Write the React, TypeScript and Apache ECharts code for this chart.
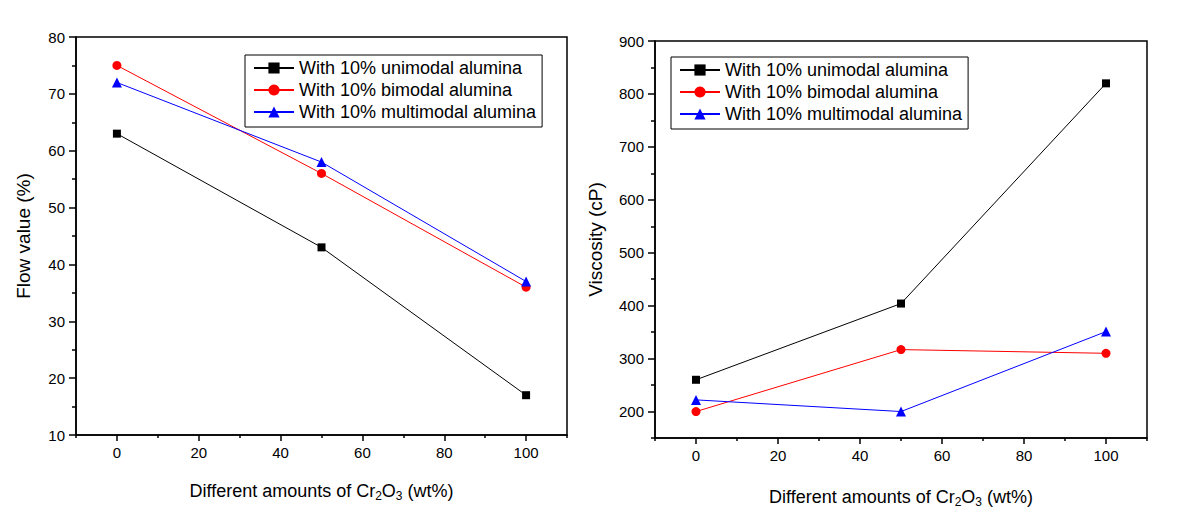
import React, { useEffect, useRef } from "react";
import * as echarts from "echarts";

const xValues = [0, 50, 100];
const seriesNames = [
  "With 10% unimodal alumina",
  "With 10% bimodal alumina",
  "With 10% multimodal alumina",
];
const flowUnimodal = [63, 43, 17];
const flowBimodal = [75, 56, 36];
const flowMultimodal = [72, 58, 37];
const viscUnimodal = [260, 404, 820];
const viscBimodal = [200, 317, 310];
const viscMultimodal = [222, 200, 351];

const xMajorTicks = [0, 20, 40, 60, 80, 100];
const xMinorTicks = [-10, 10, 30, 50, 70, 90, 110];
const viscMajorTicks = [200, 300, 400, 500, 600, 700, 800, 900];
const viscMinorTicks = [150, 250, 350, 450, 550, 650, 750, 850];

const FONT = "'Liberation Sans', Arial, sans-serif";
const colors = ["#000000", "#ff0000", "#0000ff"];
const symbols = ["rect", "circle", "triangle"];
const symbolSizes = [8, 9, 10];

const xName = "Different amounts of Cr{sub|2}O{sub|3} (wt%)";

function pairs(ys: number[]) {
  return xValues.map((x, i) => [x, ys[i]]);
}

export default function App() {
  const ref = useRef<HTMLDivElement>(null);
  useEffect(() => {
    document.body.style.margin = "0";
    if (!ref.current) return;
    const chart = echarts.init(ref.current, null, { renderer: "svg" });

    const axisLine = { show: true, onZero: false, lineStyle: { color: "#000", width: 1.5 } };
    const hiddenLine = { show: false, onZero: false };
    const nameStyle = {
      fontSize: 18,
      fontFamily: FONT,
      color: "#000",
      rich: { sub: { fontSize: 12, fontFamily: FONT, color: "#000", padding: [10, 0, 0, 0] } },
    };
    const labelStyle = { fontSize: 15, fontFamily: FONT, color: "#000" };
    const tickLine = { color: "#000", width: 1.5 };

    const mainX = (grid: number, gap: number) => ({
      type: "value",
      gridIndex: grid,
      position: "bottom",
      min: -10,
      max: 110,
      axisLine,
      splitLine: { show: false },
      axisTick: { show: true, inside: false, length: 6, customValues: xMajorTicks, lineStyle: tickLine },
      axisLabel: { ...labelStyle, margin: 10, customValues: xMajorTicks },
      name: xName,
      nameLocation: "middle",
      nameGap: gap,
      nameTextStyle: nameStyle,
    });
    const minorX = (grid: number) => ({
      type: "value",
      gridIndex: grid,
      position: "bottom",
      offset: 0,
      min: -10,
      max: 110,
      axisLine: hiddenLine,
      splitLine: { show: false },
      axisTick: { show: true, inside: false, length: 3, customValues: xMinorTicks, lineStyle: tickLine },
      axisLabel: { show: true, customValues: xMinorTicks, formatter: () => "", color: "transparent" },
    });

    const mkSeries = (name: string, i: number, ys: number[], xi: number, yi: number) => ({
      type: "line",
      name,
      xAxisIndex: xi,
      yAxisIndex: yi,
      data: pairs(ys),
      symbol: symbols[i],
      symbolSize: symbolSizes[i],
      color: colors[i],
      itemStyle: { color: colors[i] },
      lineStyle: { color: colors[i], width: 1 },
      z: 5,
    });

    const legendBase = {
      orient: "vertical",
      itemWidth: 40,
      itemHeight: 14,
      itemGap: 4,
      backgroundColor: "#fff",
      borderColor: "#000",
      borderWidth: 1,
      borderRadius: 0,
      padding: [4, 6, 6, 8],
      textStyle: { fontSize: 18, fontFamily: FONT, color: "#000" },
      selectedMode: false,
      data: seriesNames,
    };

    chart.setOption({
      animation: false,
      backgroundColor: "#fff",
      grid: [
        { left: 76, top: 37, width: 491, height: 398, show: true, borderColor: "#000", borderWidth: 1.5, backgroundColor: "transparent" },
        { left: 655, top: 41, width: 492, height: 397, show: true, borderColor: "#000", borderWidth: 1.5, backgroundColor: "transparent" },
      ],
      legend: [
        { ...legendBase, left: 245, top: 55 },
        { ...legendBase, left: 671, top: 57 },
      ],
      xAxis: [mainX(0, 45), minorX(0), mainX(1, 48), minorX(1)],
      yAxis: [
        {
          type: "value",
          gridIndex: 0,
          position: "left",
          min: 10,
          max: 80,
          interval: 10,
          axisLine,
          splitLine: { show: false },
          axisTick: { show: true, inside: false, length: 7, lineStyle: tickLine },
          minorTick: { show: true, splitNumber: 2, length: 4, lineStyle: tickLine },
          minorSplitLine: { show: false },
          axisLabel: { ...labelStyle, margin: 11 },
          name: "Flow value (%)",
          nameLocation: "middle",
          nameGap: 43,
          nameTextStyle: { fontSize: 19, fontFamily: FONT, color: "#000" },
        },
        {
          type: "value",
          gridIndex: 1,
          position: "left",
          min: 150,
          max: 900,
          axisLine,
          splitLine: { show: false },
          axisTick: { show: true, inside: false, length: 7, customValues: viscMajorTicks, lineStyle: tickLine },
          axisLabel: { ...labelStyle, margin: 11, customValues: viscMajorTicks },
          name: "Viscosity (cP)",
          nameLocation: "middle",
          nameGap: 50,
          nameTextStyle: { fontSize: 19, fontFamily: FONT, color: "#000" },
        },
        {
          type: "value",
          gridIndex: 1,
          position: "left",
          offset: 0,
          min: 150,
          max: 900,
          axisLine: hiddenLine,
          splitLine: { show: false },
          axisTick: { show: true, inside: false, length: 4, customValues: viscMinorTicks, lineStyle: tickLine },
          axisLabel: { show: true, customValues: viscMinorTicks, formatter: () => "", color: "transparent" },
        },
      ],
      series: [
        mkSeries(seriesNames[0], 0, flowUnimodal, 0, 0),
        mkSeries(seriesNames[1], 1, flowBimodal, 0, 0),
        mkSeries(seriesNames[2], 2, flowMultimodal, 0, 0),
        mkSeries(seriesNames[0], 0, viscUnimodal, 2, 1),
        mkSeries(seriesNames[1], 1, viscBimodal, 2, 1),
        mkSeries(seriesNames[2], 2, viscMultimodal, 2, 1),
      ],
    });
    return () => chart.dispose();
  }, []);
  return <div ref={ref} style={{ width: 1200, height: 528 }} />;
}
